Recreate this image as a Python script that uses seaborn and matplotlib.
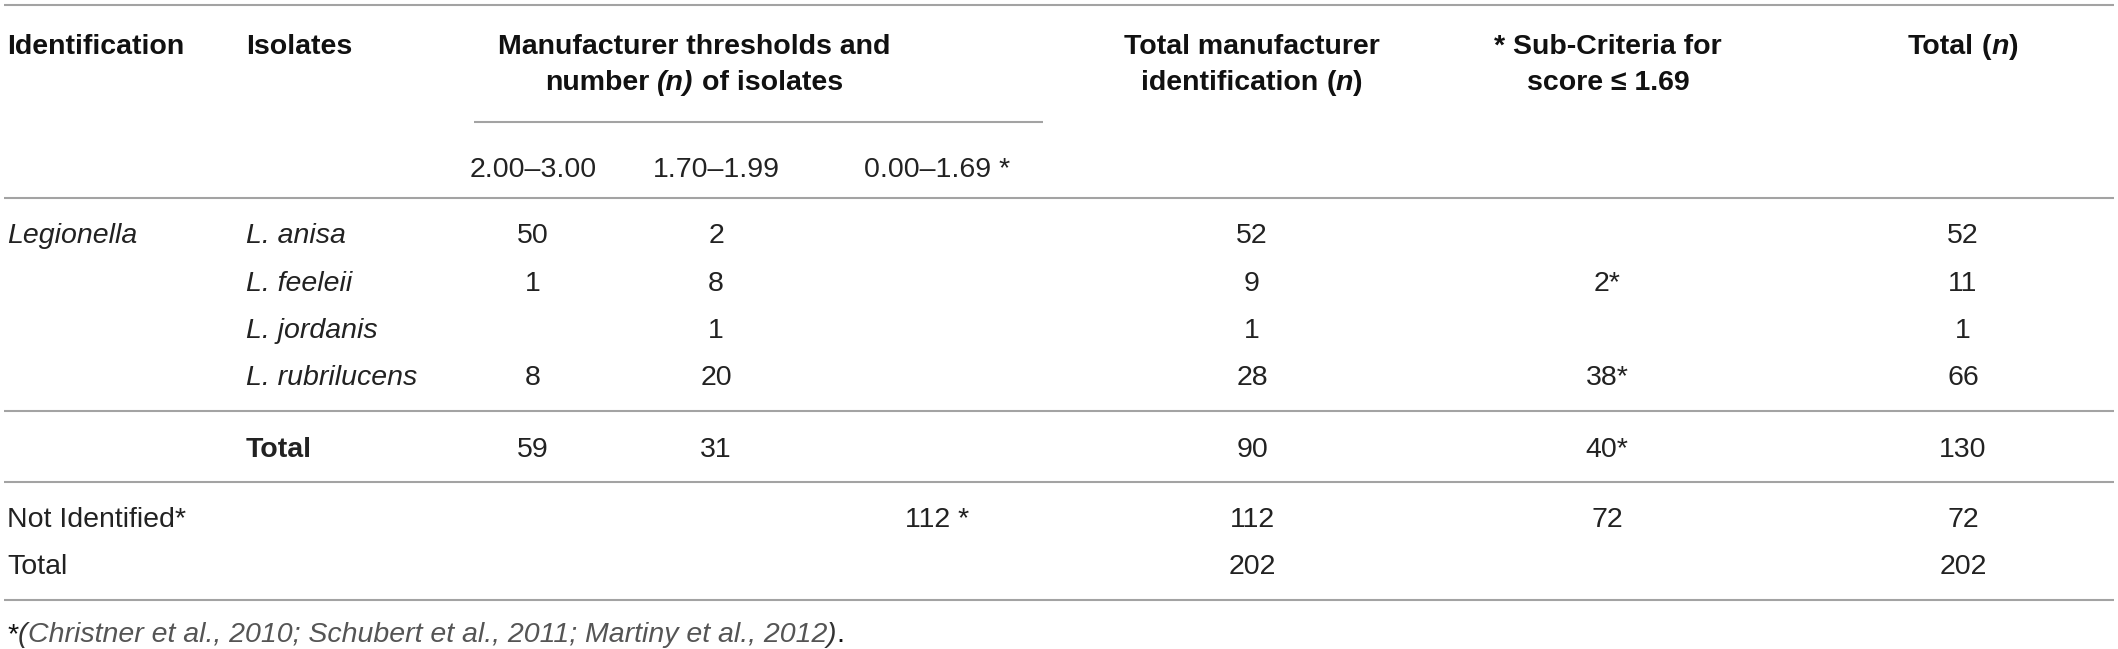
import matplotlib
matplotlib.use("Agg")
import matplotlib.pyplot as plt
import seaborn as sns

sns.set_theme(style="white")
plt.rcParams["font.family"] = ["Liberation Sans", "DejaVu Sans"]

# ---- table content ----
identification = ["Legionella", "", "", "", "", "Not Identified*", "Total"]
isolates = ["L. anisa", "L. feeleii", "L. jordanis", "L. rubrilucens", "Total", "", ""]
thr_200_300 = ["50", "1", "", "8", "59", "", ""]
thr_170_199 = ["2", "8", "1", "20", "31", "", ""]
thr_000_169 = ["", "", "", "", "", "112 *", ""]
total_manufacturer = ["52", "9", "1", "28", "90", "112", "202"]
sub_criteria = ["", "2*", "", "38*", "40*", "72", ""]
total_n = ["52", "11", "1", "66", "130", "72", "202"]
threshold_labels = ["2.00–3.00", "1.70–1.99", "0.00–1.69 *"]
footnote = "(Christner et al., 2010; Schubert et al., 2011; Martiny et al., 2012"

# ---- layout (pixels) ----
W, H = 2118, 649
FS = 20.5
CAP = 10
row_y = [233, 281, 328, 375, 447, 517, 564]
col_x = [533, 716, 937, 1252, 1607, 1963]
line_col = "#a3a3a3"
txt_col = "#222222"

fig = plt.figure(figsize=(W / 100, H / 100), dpi=100)
ax = fig.add_axes([0, 0, 1, 1])
ax.set_xlim(0, W)
ax.set_ylim(H, 0)
ax.axis("off")
renderer = fig.canvas.get_renderer()


def width_of(s, weight="normal", style="normal"):
    t = ax.text(0, 0, s, fontsize=FS, fontweight=weight, fontstyle=style)
    w = t.get_window_extent(renderer).width
    t.remove()
    return w


def runs(x, y, parts, ha="left", color=txt_col):
    # parts: (text, weight, style[, color]) or None for a space
    items = []
    for p in parts:
        if p is None:
            items.append((None, width_of("x x") - width_of("xx")))
            continue
        s, weight, style = p[:3]
        c = p[3] if len(p) > 3 else color
        t = ax.text(0, y + CAP, s, fontsize=FS, fontweight=weight,
                    fontstyle=style, color=c, va="baseline", ha="left")
        items.append((t, t.get_window_extent(renderer).width))
    total = sum(w for _, w in items)
    pos = {"left": x, "center": x - total / 2, "right": x - total}[ha]
    for t, w in items:
        if t is not None:
            t.set_x(pos)
        pos += w


def cell(x, y, s, ha="center", weight="normal", style="normal"):
    if s:
        ax.text(x, y + CAP, s, fontsize=FS, fontweight=weight, fontstyle=style,
                color=txt_col, ha=ha, va="baseline")


def hline(y, x0=4, x1=2114):
    ax.plot([x0, x1], [y, y], color=line_col, lw=1.5, solid_capstyle="butt")


# rules
for y in [5, 198, 411, 482, 600]:
    hline(y)
hline(122, 474, 1043)

# header
B = "bold"
runs(7, 44, [("Identification", B, "normal")], color="#111111")
runs(246, 44, [("Isolates", B, "normal")], color="#111111")
runs(694, 44, [("Manufacturer thresholds and", B, "normal")], ha="center", color="#111111")
runs(694, 80, [("number", B, "normal"), None, ("(n)", B, "italic"), None,
               ("of isolates", B, "normal")], ha="center", color="#111111")
runs(1252, 44, [("Total manufacturer", B, "normal")], ha="center", color="#111111")
runs(1252, 80, [("identification", B, "normal"), None, ("(", B, "normal"),
                ("n", B, "italic"), (")", B, "normal")], ha="center", color="#111111")
runs(1608, 44, [("* Sub-Criteria for", B, "normal")], ha="center", color="#111111")
runs(1608, 80, [("score ≤ 1.69", B, "normal")], ha="center", color="#111111")
runs(1963, 44, [("Total", B, "normal"), None, ("(", B, "normal"), ("n", B, "italic"),
                (")", B, "normal")], ha="center", color="#111111")

for x, lab in zip(col_x[:3], threshold_labels):
    cell(x, 167, lab)

# body
for i, y in enumerate(row_y):
    lab = identification[i]
    cell(7, y, lab, ha="left", style="italic" if lab == "Legionella" else "normal")
    iso = isolates[i]
    if iso == "Total":
        cell(246, y, iso, ha="left", weight="bold")
    else:
        cell(246, y, iso, ha="left", style="italic")
    for x, col in zip(col_x, [thr_200_300, thr_170_199, thr_000_169,
                              total_manufacturer, sub_criteria, total_n]):
        cell(x, y, col[i])

# footnote
runs(7, 632, [("*", "normal", "normal", "#111111"), ("(", "normal", "italic", "#333333"),
              (footnote[1:], "normal", "italic", "#555555"),
              (")", "normal", "italic", "#333333"), (".", "normal", "normal", "#111111")])

fig.savefig("out.png", dpi=100)
